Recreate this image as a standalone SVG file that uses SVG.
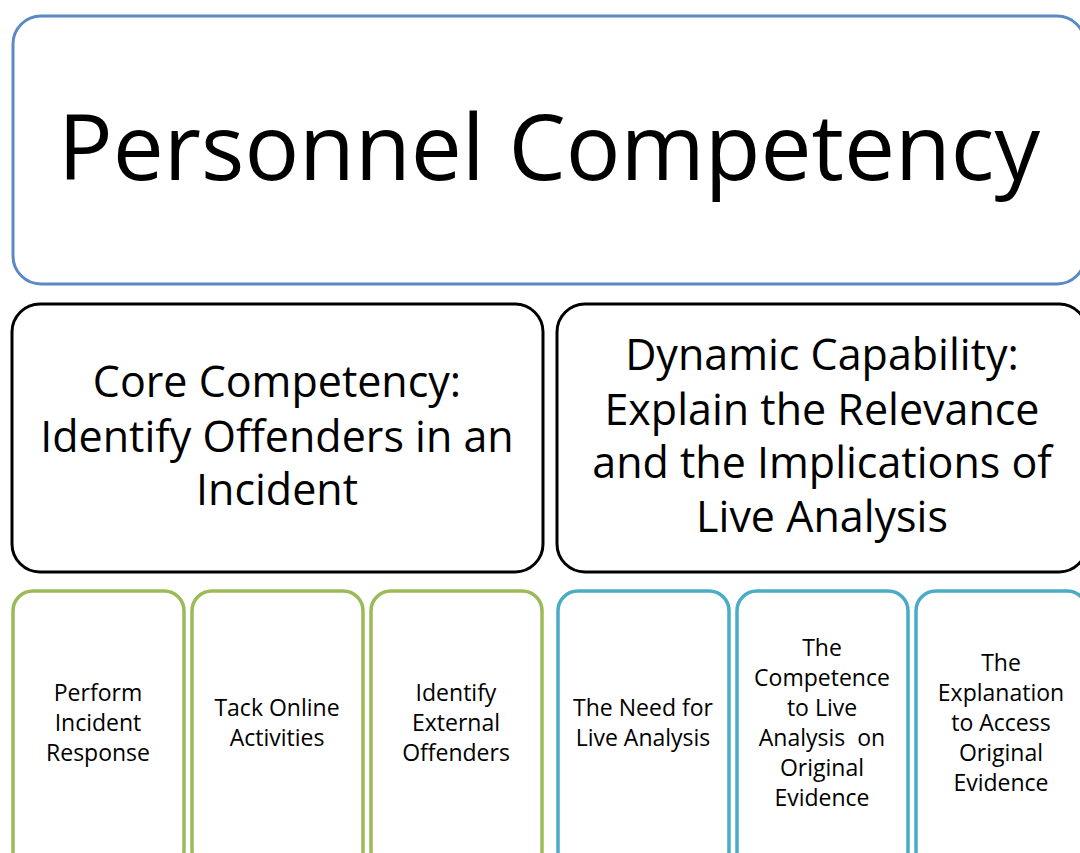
<svg xmlns="http://www.w3.org/2000/svg" width="1080" height="853" viewBox="0 0 1080 853">
  <style>
    .box { fill: #ffffff; }
    .top { stroke: #5A8AC6; stroke-width: 3; }
    .mid { stroke: #000000; stroke-width: 3; }
    .grn { stroke: #9BBB59; stroke-width: 3.5; }
    .cyn { stroke: #4BACC6; stroke-width: 3.5; }
    text { font-family: "Open Sans", "Noto Sans", sans-serif; fill: #000000; text-anchor: middle; }
    .t1 { font-size: 92px; }
    .t2 { font-size: 43px; }
    .t3 { font-size: 23px; }
  </style>
  <rect width="1080" height="853" fill="#ffffff"/>

  <g id="personnel-competency">
    <rect class="box top" x="13" y="16" width="1072" height="268" rx="28"/>
    <text class="t1" x="549" y="180" textLength="982" lengthAdjust="spacingAndGlyphs">Personnel Competency</text>
  </g>

  <g id="core-competency">
    <rect class="box mid" x="12" y="304" width="531" height="268" rx="28"/>
    <text class="t2" x="277" y="397">Core Competency:</text>
    <text class="t2" x="277" y="452">Identify Offenders in an</text>
    <text class="t2" x="277" y="505">Incident</text>
  </g>

  <g id="dynamic-capability">
    <rect class="box mid" x="557" y="304" width="530" height="268" rx="28"/>
    <text class="t2" x="822" y="370">Dynamic Capability:</text>
    <text class="t2" x="822" y="425">Explain the Relevance</text>
    <text class="t2" x="822" y="478">and the Implications of</text>
    <text class="t2" x="822" y="532">Live Analysis</text>
  </g>

  <g id="perform-incident-response">
    <rect class="box grn" x="13" y="591" width="171" height="280" rx="20"/>
    <text class="t3" x="98" y="701">Perform</text>
    <text class="t3" x="98" y="731">Incident</text>
    <text class="t3" x="98" y="761">Response</text>
  </g>

  <g id="tack-online-activities">
    <rect class="box grn" x="192" y="591" width="171" height="280" rx="20"/>
    <text class="t3" x="277" y="716">Tack Online</text>
    <text class="t3" x="277" y="746">Activities</text>
  </g>

  <g id="identify-external-offenders">
    <rect class="box grn" x="371" y="591" width="171" height="280" rx="20"/>
    <text class="t3" x="456" y="701">Identify</text>
    <text class="t3" x="456" y="731">External</text>
    <text class="t3" x="456" y="761">Offenders</text>
  </g>

  <g id="need-for-live-analysis">
    <rect class="box cyn" x="558" y="591" width="171" height="280" rx="20"/>
    <text class="t3" x="643" y="716">The Need for</text>
    <text class="t3" x="643" y="746">Live Analysis</text>
  </g>

  <g id="competence-live-analysis">
    <rect class="box cyn" x="737" y="591" width="171" height="280" rx="20"/>
    <text class="t3" x="822" y="656">The</text>
    <text class="t3" x="822" y="686">Competence</text>
    <text class="t3" x="822" y="716">to Live</text>
    <text class="t3" x="822" y="746" xml:space="preserve">Analysis  on</text>
    <text class="t3" x="822" y="776">Original</text>
    <text class="t3" x="822" y="806">Evidence</text>
  </g>

  <g id="explanation-access-evidence">
    <rect class="box cyn" x="916" y="591" width="171" height="280" rx="20"/>
    <text class="t3" x="1001" y="671">The</text>
    <text class="t3" x="1001" y="701">Explanation</text>
    <text class="t3" x="1001" y="731">to Access</text>
    <text class="t3" x="1001" y="761">Original</text>
    <text class="t3" x="1001" y="791">Evidence</text>
  </g>

  <g id="connectors"></g>
</svg>
